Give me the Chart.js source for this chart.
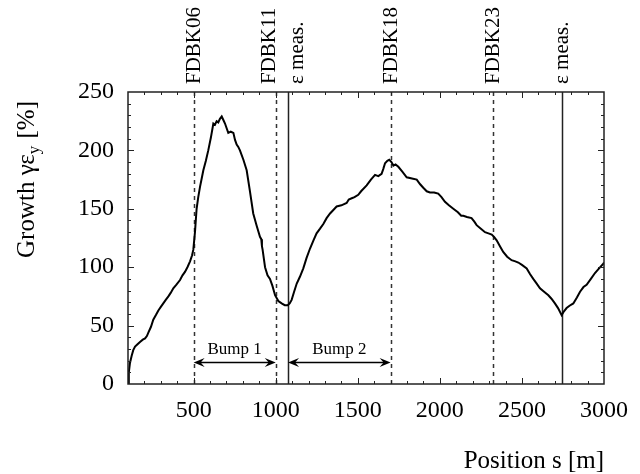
<!DOCTYPE html>
<html>
<head>
<meta charset="utf-8">
<script src="https://cdn.jsdelivr.net/npm/chart.js@4.4.0/dist/chart.umd.min.js"></script>
<style>
  html, body { margin: 0; padding: 0; background: #fff; }
  #wrap { width: 640px; height: 474px; }
</style>
</head>
<body>
<div id="wrap"><canvas id="chart-growth" width="640" height="474"></canvas></div>
<script>
// position along the line [m] and emittance growth [%]
const positions = [
  100, 105, 112, 122, 132, 143, 158, 173, 190, 204, 215, 224, 240, 254, 270, 285, 300, 315, 330, 346,
  360, 376, 395, 417, 432, 447, 462, 478, 490, 498, 508, 518, 528, 539, 549, 559, 574, 589, 605, 620,
  630, 640, 650, 660, 671, 681, 691, 701, 711, 726, 742, 752, 762, 772, 782, 803, 823, 843, 863, 883,
  904, 912, 916, 920, 935, 950, 965, 980, 996, 1016, 1036, 1055, 1073, 1085, 1097, 1112, 1128, 1148, 1168, 1188,
  1209, 1230, 1249, 1270, 1290, 1310, 1331, 1351, 1371, 1400, 1432, 1445, 1463, 1480, 1503, 1520, 1554, 1580, 1605, 1625, 1645,
  1655, 1666, 1680, 1692, 1705, 1717, 1730, 1747, 1770, 1798, 1830, 1859, 1880, 1899, 1920, 1940, 1965, 1990, 2010, 2031,
  2055, 2082, 2110, 2130, 2143, 2165, 2193, 2210, 2224, 2250, 2275, 2296, 2316, 2330, 2346, 2366, 2386, 2410, 2437, 2460,
  2478, 2500, 2529, 2550, 2569, 2590, 2610, 2635, 2661, 2680, 2701, 2720, 2742, 2755, 2772, 2790, 2813, 2835, 2854, 2875,
  2894, 2920, 2945, 2970, 2996, 3000
];
const growth = [
  0, 10, 18, 24, 29, 32, 34, 36, 38, 39, 41, 44, 49, 55, 59, 63, 66, 69, 72, 75,
  78, 82, 85, 89, 93, 96, 100, 105, 110, 115, 130, 150, 160, 169, 176, 183, 191, 200, 211, 223,
  222, 225, 224, 227, 229, 226, 223, 219, 215, 216, 215, 209, 205, 203, 200, 192, 183, 165, 146, 136,
  126, 124, 118, 115, 100, 93, 90, 84, 76, 71, 69, 67.5, 67.5, 69, 72, 79, 86, 92, 99, 108,
  116, 123, 129, 133, 137, 142, 146, 149, 152, 153, 155, 158, 159, 160, 162, 165, 170, 175, 179, 178, 180,
  184, 189, 191, 192, 190, 187, 188, 186, 182, 177, 176, 175, 171, 168, 165, 164, 164, 163, 160, 156,
  153, 150, 147, 144, 144, 143, 142, 139, 136, 133, 130, 129, 128, 126, 123, 118, 113, 109, 106, 105,
  104, 102, 99, 94, 90, 86, 82, 79, 76, 73, 69, 65, 59, 62, 65, 67, 69, 74, 79, 83,
  85, 90, 95, 99, 103, 104
];

const xTicks = [500, 1000, 1500, 2000, 2500, 3000];
const yTicks = [0, 50, 100, 150, 200, 250];

// feedback kickers and emittance measurement points
const markerPositions = [500, 1000, 1075, 1700, 2326, 2744];
const markerLabels = ['FDBK06', 'FDBK11', 'ε meas.', 'FDBK18', 'FDBK23', 'ε meas.'];
const markerSolid = [false, false, true, false, false, true];

// bump ranges
const bumpLabels = ['Bump 1', 'Bump 2'];
const bumpStart = [500, 1075];
const bumpEnd = [1000, 1700];
const bumpLevel = 19;

const serif = '"Liberation Serif", "Times New Roman", serif';

function arrowHead(ctx, tipX, tipY, dir) {
  ctx.beginPath();
  ctx.moveTo(tipX, tipY);
  ctx.lineTo(tipX - dir * 11, tipY - 4.5);
  ctx.lineTo(tipX - dir * 7, tipY);
  ctx.lineTo(tipX - dir * 11, tipY + 4.5);
  ctx.closePath();
  ctx.fill();
}

const overlay = {
  id: 'overlay',
  beforeDatasetsDraw(chart) {
    const { ctx, chartArea: a, scales: { x, y } } = chart;
    const nudge = [0, -7, 9, 0, 0, 0];
    ctx.save();
    markerPositions.forEach((s, i) => {
      const px = Math.round(x.getPixelForValue(s)) + 0.5;
      ctx.beginPath();
      ctx.strokeStyle = markerSolid[i] ? '#222' : '#333';
      ctx.lineWidth = 1.5;
      ctx.setLineDash(markerSolid[i] ? [] : [4, 4]);
      ctx.moveTo(px, a.top);
      ctx.lineTo(px, a.bottom);
      ctx.stroke();

      ctx.save();
      ctx.translate(px + nudge[i], a.top - 8);
      ctx.rotate(-Math.PI / 2);
      ctx.fillStyle = '#000';
      ctx.font = '21px ' + serif;
      ctx.textAlign = 'left';
      ctx.textBaseline = 'middle';
      ctx.fillText(markerLabels[i], 0, 0);
      ctx.restore();
    });
    ctx.setLineDash([]);

    // bump arrows
    const ay = Math.round(y.getPixelForValue(bumpLevel)) + 0.5;
    ctx.strokeStyle = '#000';
    ctx.fillStyle = '#000';
    ctx.lineWidth = 1.5;
    bumpLabels.forEach((lab, i) => {
      const x0 = x.getPixelForValue(bumpStart[i]);
      const x1 = x.getPixelForValue(bumpEnd[i]);
      ctx.beginPath();
      ctx.moveTo(x0 + 4, ay);
      ctx.lineTo(x1 - 4, ay);
      ctx.stroke();
      arrowHead(ctx, x0, ay, -1);
      arrowHead(ctx, x1, ay, 1);
      ctx.font = '17px ' + serif;
      ctx.textAlign = 'center';
      ctx.textBaseline = 'alphabetic';
      ctx.fillText(lab, (x0 + x1) / 2, ay - 9);
    });
    ctx.restore();
  },
  afterDraw(chart) {
    const { ctx, chartArea: a, scales: { x, y } } = chart;
    ctx.save();
    ctx.strokeStyle = '#222';
    ctx.lineWidth = 1.5;
    ctx.strokeRect(a.left, a.top, a.right - a.left, a.bottom - a.top);

    // inside ticks on all four sides
    ctx.lineWidth = 1;
    ctx.beginPath();
    for (let v = 200; v < 3000; v += 100) {
      const px = Math.round(x.getPixelForValue(v)) + 0.5;
      const len = v % 500 === 0 ? 6 : 3;
      ctx.moveTo(px, a.bottom); ctx.lineTo(px, a.bottom - len);
      ctx.moveTo(px, a.top); ctx.lineTo(px, a.top + len);
    }
    for (let v = 10; v < 250; v += 10) {
      const py = Math.round(y.getPixelForValue(v)) + 0.5;
      const len = v % 50 === 0 ? 6 : 3;
      ctx.moveTo(a.left, py); ctx.lineTo(a.left + len, py);
      ctx.moveTo(a.right, py); ctx.lineTo(a.right - len, py);
    }
    ctx.stroke();

    // axis titles
    ctx.fillStyle = '#000';
    ctx.font = '25px ' + serif;
    ctx.textAlign = 'right';
    ctx.textBaseline = 'alphabetic';
    ctx.fillText('Position s [m]', a.right, a.bottom + 84);

    ctx.translate(34, 258);
    ctx.rotate(-Math.PI / 2);
    ctx.textAlign = 'left';
    let cx = 0;
    const main = 'Growth γε';
    ctx.fillText(main, cx, 0);
    cx += ctx.measureText(main).width;
    ctx.font = '17px ' + serif;
    ctx.fillText('y', cx, 5);
    cx += ctx.measureText('y').width + 1;
    ctx.font = '25px ' + serif;
    ctx.fillText(' [%]', cx, 0);
    ctx.restore();
  }
};

const ctxGrowth = document.getElementById('chart-growth');

new Chart(ctxGrowth, {
  type: 'line',
  data: {
    datasets: [{
      label: 'Growth',
      data: positions.map((s, i) => ({ x: s, y: growth[i] })),
      borderColor: '#000',
      borderWidth: 2,
      pointRadius: 0,
      tension: 0,
      fill: false
    }]
  },
  options: {
    responsive: false,
    animation: false,
    devicePixelRatio: 1,
    layout: { padding: { top: 92, right: 36, left: 0, bottom: 0 } },
    plugins: { legend: { display: false }, tooltip: { enabled: false } },
    scales: {
      x: {
        type: 'linear',
        min: 100,
        max: 3000,
        grid: { display: false, drawTicks: false },
        border: { display: false },
        afterBuildTicks: (scale) => { scale.ticks = xTicks.map(v => ({ value: v })); },
        afterFit: (scale) => { scale.height = 90; },
        ticks: {
          color: '#000', padding: 12, maxRotation: 0,
          font: { family: serif, size: 24 },
          callback: (v) => String(v)
        }
      },
      y: {
        min: 0,
        max: 250,
        grid: { display: false, drawTicks: false },
        border: { display: false },
        afterBuildTicks: (scale) => { scale.ticks = yTicks.map(v => ({ value: v })); },
        afterFit: (scale) => { scale.width = 128; },
        ticks: {
          color: '#000', padding: 14,
          font: { family: serif, size: 24 },
          callback: (v) => String(v)
        }
      }
    }
  },
  plugins: [overlay]
});
</script>
</body>
</html>
